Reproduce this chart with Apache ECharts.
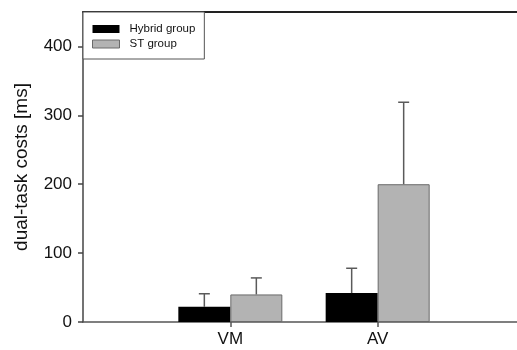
<!DOCTYPE html>
<html>
<head>
<meta charset="utf-8">
<script src="https://cdn.jsdelivr.net/npm/echarts@6/dist/echarts.min.js"></script>
<style>
  html, body { margin: 0; padding: 0; background: #fff; }
  #chart { width: 517px; height: 350px; }
</style>
</head>
<body>
<div id="chart"></div>
<script>
// data
const categories = ['', 'VM', 'AV', ''];
const hybridMean = [null, 22, 42, null];
const hybridErr = [null, 41, 78, null];     // top of whisker
const stMean = [null, 40, 200, null];
const stErr = [null, 64, 319, null];
const yTicks = [0, 100, 200, 300, 400];

const chart = echarts.init(document.getElementById('chart'), null, { renderer: 'canvas' });

// upward whisker with a cap, shifted to the bar it belongs to
function errorSeries(name, means, tops, offset) {
  return {
    name: name + ' err',
    type: 'custom',
    silent: true,
    z: 3,
    data: tops.map((v, i) => (v == null ? null : [i, v, means[i]])).filter(Boolean),
    renderItem(params, api) {
      const base = api.coord([api.value(0), api.value(2)]);
      const top = api.coord([api.value(0), api.value(1)]);
      const x = base[0] + offset;
      const style = { stroke: '#5a5a5a', lineWidth: 1.5 };
      return {
        type: 'group',
        children: [
          { type: 'line', shape: { x1: x, y1: base[1], x2: x, y2: top[1] }, style },
          { type: 'line', shape: { x1: x - 5.5, y1: top[1], x2: x + 5.5, y2: top[1] }, style }
        ]
      };
    }
  };
}

chart.setOption({
  animation: false,
  backgroundColor: '#fff',
  textStyle: { fontFamily: 'Liberation Sans, Arial, sans-serif' },
  grid: { left: 83, right: -8, top: 12, bottom: 28, containLabel: false, outerBoundsMode: 'none' },
  legend: {
    left: 83,
    top: 12,
    orient: 'vertical',
    padding: [10, 9, 8, 9],
    itemGap: 1,
    itemWidth: 27,
    itemHeight: 8,
    icon: 'rect',
    borderColor: '#555',
    borderWidth: 1,
    backgroundColor: '#fff',
    data: [
      { name: 'Hybrid group', itemStyle: { color: '#000', borderWidth: 0 } },
      { name: 'ST group', itemStyle: { color: '#b3b3b3', borderColor: '#6a6a6a', borderWidth: 1 } }
    ],
    textStyle: { fontSize: 11.5, lineHeight: 14, color: '#111', padding: [0, 0, 0, 5] }
  },
  xAxis: [{
    type: 'category',
    data: categories,
    boundaryGap: false,
    axisLine: { lineStyle: { color: '#555', width: 1.5 } },
    axisTick: {
      interval: (i, v) => v !== '',
      length: 5,
      lineStyle: { color: '#555', width: 1.5 }
    },
    axisLabel: { fontSize: 17, color: '#111', margin: 9 }
  }, {
    type: 'category',
    position: 'top',
    data: categories,
    boundaryGap: false,
    axisLine: { lineStyle: { color: '#222', width: 2 } },
    axisTick: { show: false },
    axisLabel: { show: false }
  }],
  yAxis: {
    type: 'value',
    min: 0,
    max: 450,
    interval: 50,
    name: 'dual-task costs [ms]',
    nameLocation: 'middle',
    nameGap: 52,
    nameTextStyle: { fontSize: 19, color: '#111' },
    axisLine: { show: true, lineStyle: { color: '#444', width: 1.5 } },
    axisTick: { show: true, length: 5, customValues: yTicks, lineStyle: { color: '#444', width: 1.5 } },
    axisLabel: { fontSize: 17, color: '#111', margin: 11, customValues: yTicks },
    splitLine: { show: false }
  },
  series: [
    {
      name: 'Hybrid group',
      type: 'bar',
      barWidth: 52,
      barGap: '0%',
      data: hybridMean,
      itemStyle: { color: '#000', borderColor: '#000', borderWidth: 0 },
      z: 2
    },
    {
      name: 'ST group',
      type: 'bar',
      barWidth: 52,
      barGap: '0%',
      data: stMean,
      itemStyle: { color: '#b3b3b3', borderColor: '#6a6a6a', borderWidth: 1 },
      z: 2
    },
    errorSeries('Hybrid group', hybridMean, hybridErr, -26),
    errorSeries('ST group', stMean, stErr, 26)
  ]
});
</script>
</body>
</html>
